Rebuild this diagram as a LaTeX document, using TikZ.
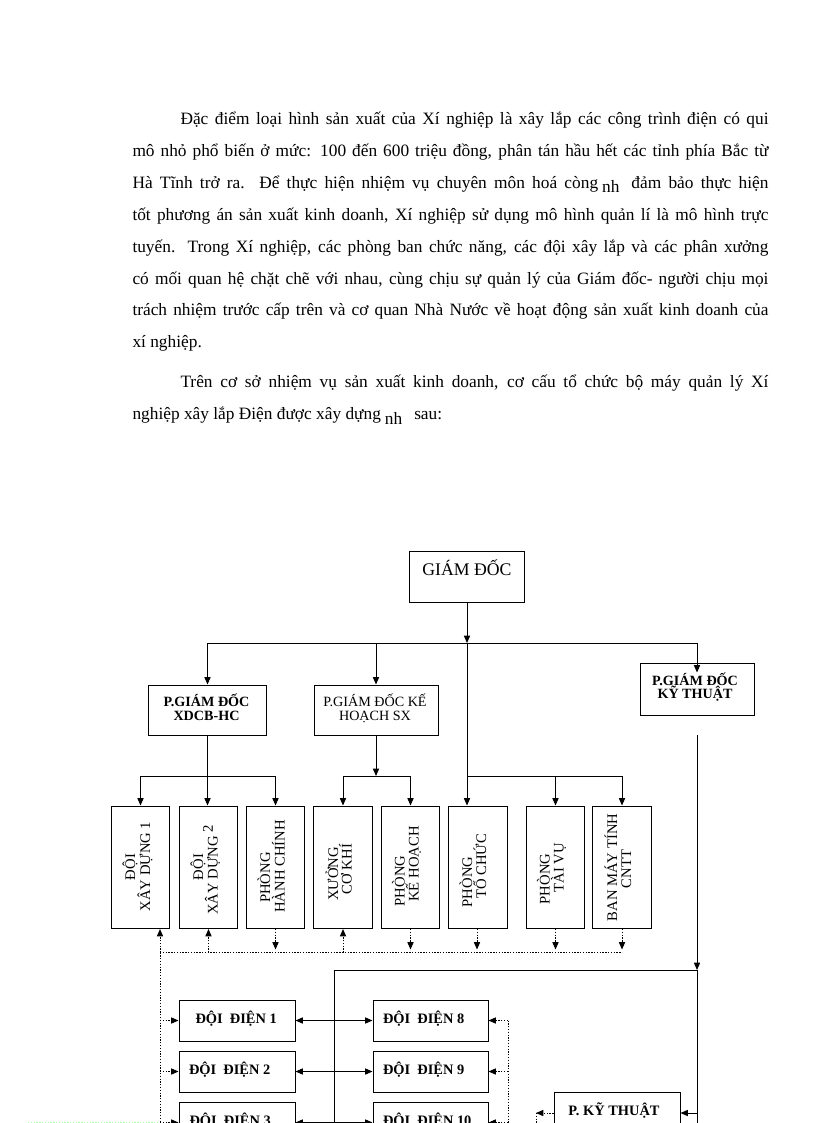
\documentclass[tikz,border=0pt]{standalone}
\usepackage{fontspec}
\setmainfont{Liberation Serif}
\usetikzlibrary{arrows.meta,calc}
\begin{document}
\begin{tikzpicture}[x=0.75pt,y=-0.75pt,line width=0.75pt,
  bx/.style 2 args={draw,line width=0.75pt,inner sep=0pt,minimum width=#1*0.75pt,minimum height=#2*0.75pt},
  arr/.style={-{Triangle[length=5.5pt,width=4.6pt]}},
  darr/.style={{Triangle[length=5.5pt,width=4.6pt]}-{Triangle[length=5.5pt,width=4.6pt]}},
  dot/.style={dash pattern=on 1pt off 1.1pt},
  lbl/.style={anchor=base,inner sep=0pt},
  para/.style={anchor=base west,inner sep=0pt,font=\fontsize{13pt}{16pt}\selectfont},
  gdfont/.style={font=\fontsize{13.3pt}{16pt}\selectfont},
  bfont/.style={font=\fontsize{10.6pt}{12pt}\selectfont\bfseries},
  rfont/.style={font=\fontsize{10.6pt}{12pt}\selectfont},
  vtxt/.style={anchor=base,inner sep=0pt,rotate=90,font=\fontsize{11pt}{12pt}\selectfont},
  ddt/.style={anchor=base west,inner sep=0pt,font=\fontsize{10.8pt}{12pt}\selectfont\bfseries}]
\useasboundingbox (0,0) rectangle (816,1123);
\fill[white] (0,0) rectangle (816,1123);
\clip (0,0) rectangle (816,1123);

% paragraph
\node[para] (p1) at (180,124.5) {\hbox to 441pt{Đặc điểm loại hình sản xuất của Xí nghiệp là xây lắp các công trình điện có qui}};
\node[para] (p2) at (132,156.4) {\hbox to 477pt{mô nhỏ phổ biến ở mức: 100 đến 600 triệu đồng, phân tán hầu hết các tỉnh phía Bắc từ}};
\node[para] (p3) at (132,188.3) {\hbox to 477pt{Hà Tĩnh trở ra. Để thực hiện nhiệm vụ chuyên môn hoá còng\hspace{3pt}\raisebox{-3.5pt}{nh}\hspace{9pt}đảm bảo thực hiện}};
\node[para] (p4) at (132,220.2) {\hbox to 477pt{tốt phương án sản xuất kinh doanh, Xí nghiệp sử dụng mô hình quản lí là mô hình trực}};
\node[para] (p5) at (132,252.1) {\hbox to 477pt{tuyến. Trong Xí nghiệp, các phòng ban chức năng, các đội xây lắp và các phân xưởng}};
\node[para] (p6) at (132,284.0) {\hbox to 477pt{có mối quan hệ chặt chẽ với nhau, cùng chịu sự quản lý của Giám đốc- người chịu mọi}};
\node[para] (p7) at (132,315.9) {\hbox to 477pt{trách nhiệm trước cấp trên và cơ quan Nhà Nước về hoạt động sản xuất kinh doanh của}};
\node[para] (p8) at (132,347.8) {xí nghiệp.};
\node[para] (p9) at (180,387.8) {\hbox to 441pt{Trên cơ sở nhiệm vụ sản xuất kinh doanh, cơ cấu tổ chức bộ máy quản lý Xí}};
\node[para] (p10) at (132,419.7) {nghiệp xây lắp Điện được xây dựng\hspace{3pt}\raisebox{-3.5pt}{nh}\hspace{9pt}sau:};

% top boxes
\node[bx={115}{51}] (gd) at (467,576.5) {};
\node[lbl,gdfont] (gdt) at (467,575) {GIÁM ĐỐC};
\node[bx={118}{50}] (pg1) at (207.5,710) {};
\node[lbl,bfont] (pg1a) at (206.5,706) {P.GIÁM ĐỐC};
\node[lbl,bfont] (pg1b) at (206.5,720) {XDCB-HC};
\node[bx={124}{50}] (pg2) at (376,710) {};
\node[lbl,rfont] (pg2a) at (375,706) {P.GIÁM ĐỐC KẾ};
\node[lbl,rfont] (pg2b) at (375,720.5) {HOẠCH SX};
\node[bx={114}{52}] (pg3) at (697,689) {};
\node[lbl,bfont] (pg3a) at (695,685.5) {P.GIÁM ĐỐC};
\node[lbl,bfont] (pg3b) at (695,698) {KỸ THUẬT};

% vertical boxes
\foreach \n/\c in {1/140.5,2/208.5,3/275.5,4/343,5/410.5,6/478,7/555.5,8/622}
  \node[bx={58.5}{122.5}] (v\n) at (\c,867.25) {};
\node[vtxt] (v1a) at (135,867) {ĐỘI};
\node[vtxt] (v1b) at (150,866.5) {XÂY DỰNG 1};
\node[vtxt] (v2a) at (203,867) {ĐỘI};
\node[vtxt] (v2b) at (217.5,870) {XÂY DỰNG\ \raisebox{3.5pt}{2}};
\node[vtxt] (v3a) at (270,877.5) {PHÒNG};
\node[vtxt] (v3b) at (284.5,866.5) {HÀNH CHÍNH};
\node[vtxt] (v4a) at (338,874) {XƯỞNG};
\node[vtxt] (v4b) at (351.5,869) {CƠ KHÍ};
\node[vtxt] (v5a) at (404.5,881) {PHÒNG};
\node[vtxt] (v5b) at (418.5,864) {KẾ HOẠCH};
\node[vtxt] (v6a) at (472,882) {PHÒNG};
\node[vtxt] (v6b) at (486,866.5) {TỔ CHỨC};
\node[vtxt] (v7a) at (549.5,879) {PHÒNG};
\node[vtxt] (v7b) at (563.5,867.5) {TÀI VỤ};
\node[vtxt] (v8a) at (617,867.5) {BAN MÁY TÍNH};
\node[vtxt] (v8b) at (631,869) {CNTT};

% lower boxes
\node[bx={116}{41}] (dd1) at (237,1020.5) {};
\node[bx={116}{41}] (dd2) at (237,1071.5) {};
\node[bx={116}{41}] (dd3) at (237,1122.5) {};
\node[bx={115}{41}] (dd8) at (430.5,1020.5) {};
\node[bx={115}{41}] (dd9) at (430.5,1071.5) {};
\node[bx={115}{41}] (dd10) at (430.5,1122.5) {};
\node[ddt] (dd1t) at (195,1023.5) {ĐỘI\ \ ĐIỆN 1};
\node[ddt] (dd2t) at (188.5,1074.5) {ĐỘI\ \ ĐIỆN 2};
\node[ddt] (dd3t) at (189,1125.5) {ĐỘI\ \ ĐIỆN 3};
\node[ddt] (dd8t) at (382.5,1023.5) {ĐỘI\ \ ĐIỆN 8};
\node[ddt] (dd9t) at (382.5,1074.5) {ĐỘI\ \ ĐIỆN 9};
\node[ddt] (dd10t) at (382.5,1125.5) {ĐỘI\ \ ĐIỆN 10};
\node[bx={126}{42}] (pkt) at (617,1113) {};
\node[ddt,anchor=base] (pktt) at (614,1115.5) {P.\ KỸ THUẬT};

% coordinates
\coordinate (j0) at (467,643);
\coordinate (busy) at (0,776);
\coordinate (dby) at (0,952.5);
\coordinate (lb) at (160,952.5);
\coordinate (lbe) at (160,1140);
\coordinate (rb) at (508,1020.5);
\coordinate (rtop) at (697,735);
\coordinate (hj) at (697,970);
\coordinate (lj) at (334,970);
\coordinate (kq) at (536,1113);
\coordinate (g1) at (28,1122);
\coordinate (g2) at (157,1122);

% solid connectors, top
\draw[arr] (gd.south) -- (j0);
\draw (pg1.north |- j0) -- (pg3.north |- j0);
\draw[arr] (pg1.north |- j0) -- (pg1.north);
\draw[arr] (pg2.north |- j0) -- (pg2.north);
\draw[arr] (pg3.north |- j0) -- ($(pg3.north)+(0,10)$);
\draw[arr] (j0) -- (j0 |- v6.north);
% brackets
\draw (v1.north |- busy) -- (v3.north |- busy);
\draw[arr] (v1.north |- busy) -- (v1.north);
\draw[arr] (v3.north |- busy) -- (v3.north);
\draw[arr] (pg1.south) -- (pg1.south |- v2.north);
\draw (v4.north |- busy) -- (v5.north |- busy);
\draw[arr] (v4.north |- busy) -- (v4.north);
\draw[arr] (v5.north |- busy) -- (v5.north);
\draw[arr] (pg2.south) -- (pg2.south |- busy);
\draw (j0 |- busy) -- (v8.north |- busy);
\draw[arr] (v7.north |- busy) -- (v7.north);
\draw[arr] (v8.north |- busy) -- (v8.north);

% dotted bus under vertical boxes
\draw[dot] (lb) -- (v8.south |- dby);
\draw[dot] (lb) -- (lbe);
\draw[dot,arr] (lb) -- (lb |- v1.south);
\draw[dot,arr] (v2.south |- dby) -- (v2.south);
\draw[dot,arr] (v3.south) -- ($(v3.south |- dby)+(0,-3)$);
\draw[dot,arr] (v4.south |- dby) -- (v4.south);
\draw[dot,arr] (v5.south) -- ($(v5.south |- dby)+(0,-3)$);
\draw[dot,arr] ($(v6.south)+(-1,0)$) -- ($(v6.south |- dby)+(-1,-3)$);
\draw[dot,arr] (v7.south) -- ($(v7.south |- dby)+(0,-3)$);
\draw[dot,arr] (v8.south) -- ($(v8.south |- dby)+(0,-3)$);

% left / right dotted to ĐỘI ĐIỆN
\draw[dot,arr] (lb |- dd1.west) -- (dd1.west);
\draw[dot,arr] (lb |- dd2.west) -- (dd2.west);
\draw[dot,arr] (lb |- dd3.west) -- (dd3.west);
\draw[dot] (rb) -- (rb |- lbe);
\draw[dot,arr] (rb) -- (dd8.east);
\draw[dot,arr] (rb |- dd9.east) -- (dd9.east);
\draw[dot,arr] (rb |- dd10.east) -- (dd10.east);
\draw[darr] (dd1.east) -- (dd8.west);
\draw[darr] (dd2.east) -- (dd9.west);
\draw[darr] (dd3.east) -- (dd10.west);

% right side
\draw[arr] (rtop) -- (hj);
\draw (hj) -- (hj |- lbe);
\draw (hj) -- (lj) -- (lj |- lbe);
\draw[arr] (pkt.east -| hj) -- (pkt.east);
\draw[dot,arr] (pkt.west) -- (kq);
\draw[dot] (kq) -- (kq |- lbe);

% faint green dots at the bottom edge
\draw[dot,green!35] (g1) -- (g2);
\end{tikzpicture}
\end{document}
